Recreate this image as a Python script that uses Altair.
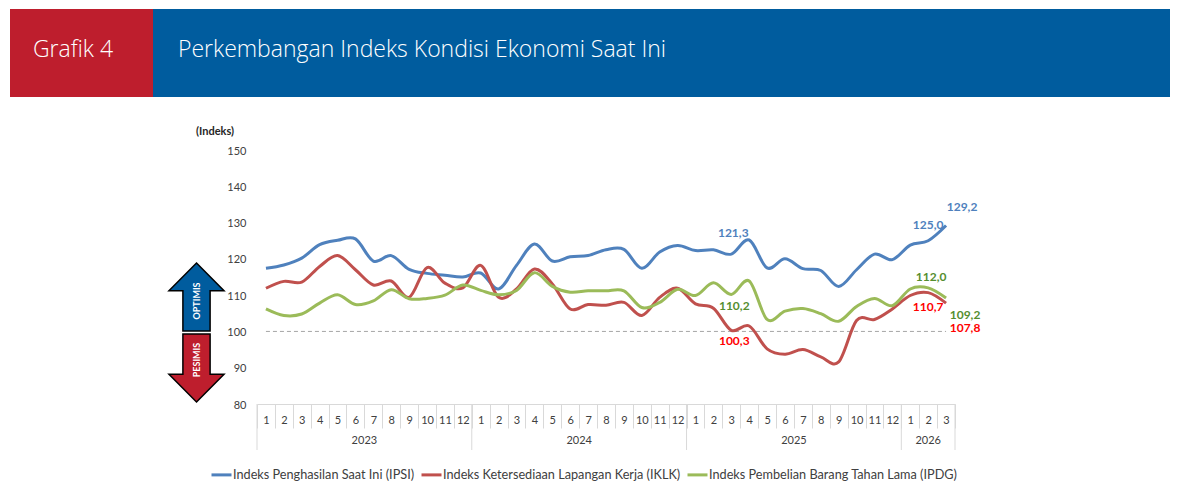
import altair as alt
import pandas as pd

MONTH_IDX = list(range(1, 40))
IPSI = [117.4,118.3,120.2,123.9,125.1,125.5,119.4,120.9,117.1,116.0,115.5,115.0,
        116.1,111.7,118.2,124.1,119.4,120.6,120.9,122.5,122.6,117.4,121.9,123.7,
        122.3,122.5,121.3,125.2,117.5,120.0,117.3,116.8,112.4,117.0,121.3,119.8,
        123.8,125.0,129.2]
IKLK = [111.9,113.8,113.6,117.9,120.9,117.0,112.8,113.9,109.4,117.6,113.3,112.0,
        118.2,109.4,111.7,117.2,113.1,106.2,107.4,107.2,108.0,104.4,109.4,111.9,
        107.6,106.4,100.3,101.5,95.2,93.7,95.0,93.0,91.6,103.0,103.3,106.2,
        109.9,110.7,107.8]
IPDG = [106.2,104.4,104.8,107.8,110.1,107.4,108.4,111.5,109.0,109.1,110.0,112.8,
        111.3,110.1,111.3,116.2,112.4,110.8,111.2,111.2,111.2,106.6,108.0,111.6,
        109.9,113.4,110.2,113.9,103.3,105.6,106.3,104.9,102.8,106.9,109.1,107.1,
        111.7,112.0,109.2]
NAMES = ["Indeks Penghasilan Saat Ini (IPSI)",
         "Indeks Ketersediaan Lapangan Kerja (IKLK)",
         "Indeks Pembelian Barang Tahan Lama (IPDG)"]
LINE_COLORS = ["#4F81BD", "#C0504D", "#9BBB59"]
Y_TICKS = [80, 90, 100, 110, 120, 130, 140, 150]
YEAR_START = [1, 13, 25, 37]
YEARS = [("2023", 6, 1), ("2024", 18, 1), ("2025", 30, 1), ("2026", 38, 0.5)]
LABELS = [  # text, month index, value, colour, dx, dy
    ("121,3", 27, 121.3, "#4F81BD", 2, -21),
    ("125,0", 38, 125.0, "#4F81BD", 0, -16),
    ("129,2", 39, 129.2, "#4F81BD", 16, -18),
    ("112,0", 38, 112.0, "#558E2F", 3, -11),
    ("110,2", 27, 110.2, "#558E2F", 3, 12),
    ("109,2", 39, 109.2, "#558E2F", 19, 17),
    ("100,3", 27, 100.3, "#FF0000", 3, 11),
    ("110,7", 38, 110.7, "#FF0000", 0, 14),
    ("107,8", 39, 107.8, "#FF0000", 19, 25),
]

FONT = "Lato"
GREY = "#D9D9D9"
TXT = "#404040"

df = pd.DataFrame({
    "i": MONTH_IDX * 3,
    "v": IPSI + IKLK + IPDG,
    "s": [NAMES[0]] * 39 + [NAMES[1]] * 39 + [NAMES[2]] * 39,
})

xscale = alt.Scale(type="band", paddingInner=0, paddingOuter=0, domain=MONTH_IDX)
yscale = alt.Scale(domain=[80, 150], nice=False, zero=False)
xaxis = alt.Axis(
    labelExpr="isValid(datum.value) && isFinite(+datum.value) ? ((datum.value - 1) % 12) + 1 : ''",
    labelAngle=0, labelFont=FONT,
    labelFontSize=11, labelColor=TXT, labelPadding=-14, labelBaseline="top",
    tickBand="extent", tickSize=24, tickColor=GREY, domainColor=GREY,
    labelOverlap=False, grid=False)
yaxis = alt.Axis(
    values=Y_TICKS, domain=False, ticks=False, grid=False, labelFont=FONT,
    labelFontSize=11, labelColor=TXT, labelPadding=11, labelOffset=1)


def X(field="i:O", **kw):
    return alt.X(field, scale=xscale, axis=xaxis, title=None, **kw)


def Y(field="v:Q"):
    return alt.Y(field, scale=yscale, axis=yaxis, title=None)


ref100 = alt.Chart(pd.DataFrame({"i": [1, 39], "v": [100, 100]})).mark_line(
    color="#A6A6A6", strokeDash=[4, 3], strokeWidth=1
).encode(x=X(), y=Y())

lines = alt.Chart(df).mark_line(interpolate="cardinal", tension=0, strokeWidth=3).encode(
    x=X(), y=Y(),
    color=alt.Color("s:N", scale=alt.Scale(domain=NAMES, range=LINE_COLORS), legend=alt.Legend(
        orient="none", legendX=-47, legendY=313, direction="horizontal", title=None,
        symbolType="stroke", symbolSize=400, symbolStrokeWidth=3, labelFont=FONT,
        labelFontSize=12.7, labelColor=TXT, columnPadding=0, labelOffset=0, columns=3,
        labelLimit=400)),
)

year_rules = alt.Chart(pd.DataFrame({"i": YEAR_START})).mark_rule(color=GREY).encode(
    x=X(bandPosition=0), y=alt.value(254), y2=alt.value(300))
end_rule = alt.Chart(pd.DataFrame({"i": [39]})).mark_rule(color=GREY).encode(
    x=X(bandPosition=1), y=alt.value(254), y2=alt.value(300))

year_texts = [
    alt.Chart(pd.DataFrame({"i": [a], "t": [t]})).mark_text(
        font=FONT, fontSize=11, color=TXT
    ).encode(x=X(bandPosition=b), y=alt.value(291), text="t:N")
    for t, a, b in YEARS
]

label_marks = [
    alt.Chart(pd.DataFrame({"i": [i], "v": [v], "t": [t]})).mark_text(
        font=FONT, fontSize=12, fontWeight="bold", color=c, dx=dx, dy=dy
    ).encode(x=X(), y=Y(), text="t:N")
    for t, i, v, c, dx, dy in LABELS
]


def box(x, x2, y, y2, color):
    return alt.Chart(pd.DataFrame({"a": [0]})).mark_rect(color=color).encode(
        x=alt.value(x), x2=alt.value(x2), y=alt.value(y), y2=alt.value(y2))


def label(text, x, y, **kw):
    return alt.Chart(pd.DataFrame({"a": [0]})).mark_text(text=text, **kw).encode(
        x=alt.value(x), y=alt.value(y))


header = [
    box(-247, -104, -141, -53, "#BE1E2D"),
    box(-104, 915, -141, -53, "#005C9E"),
    label("Grafik 4", -184, -100, font="Open Sans", fontWeight=300, fontSize=23,
          color="white", align="center"),
    label("Perkembangan Indeks Kondisi Ekonomi Saat Ini", -79, -100, font="Open Sans",
          fontWeight=300, fontSize=23, color="white", align="left"),
    label("(Indeks)", -61, -18, font=FONT, fontSize=11, fontWeight="bold", color="#262626",
          align="left"),
]

UP = "M0,-1 L0.81,-0.185 L0.4,-0.185 L0.4,1 L-0.4,1 L-0.4,-0.185 L-0.81,-0.185 Z"
DOWN = "M0,1 L0.81,0.185 L0.4,0.185 L0.4,-1 L-0.4,-1 L-0.4,0.185 L-0.81,0.185 Z"


def arrow(path, y, color):
    return alt.Chart(pd.DataFrame({"a": [0]})).mark_point(
        shape=path, size=4624, filled=True, fill=color, stroke="black", strokeWidth=1.5,
        opacity=1,
    ).encode(x=alt.value(-60.5), y=alt.value(y))


arrows = [
    arrow(UP, 147, "#005C9E"),
    arrow(DOWN, 218, "#BE1E2D"),
    label("OPTIMIS", -60.5, 151, font=FONT, fontSize=9, fontWeight="bold", color="white",
          angle=270, align="center"),
    label("PESIMIS", -60.5, 210, font=FONT, fontSize=9, fontWeight="bold", color="white",
          angle=270, align="center"),
]

chart = alt.layer(
    ref100, lines, year_rules, end_rule, *year_texts, *label_marks, *header, *arrows
).properties(
    width=698, height=254, background="white",
    autosize=alt.AutoSizeParams(type="none"),
    padding={"left": 249, "top": 142, "right": 215, "bottom": 77},
).configure_view(stroke=None)

chart.save("out.html", embed_options={"renderer": "svg", "actions": False})
